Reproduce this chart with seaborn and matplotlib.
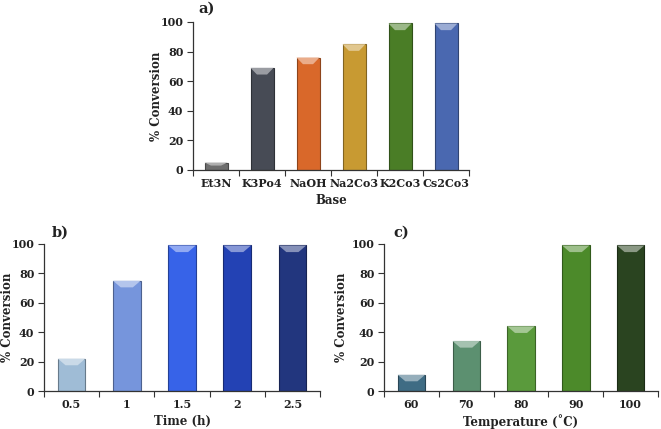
import numpy as np
import pandas as pd
import matplotlib.pyplot as plt
import matplotlib.colors as mcolors
from matplotlib.patches import Polygon
import seaborn as sns

sns.set_theme(style="white")
plt.rcParams['font.family'] = ['DejaVu Serif']
plt.rcParams['font.weight'] = 'bold'

# Data
bases = ["Et3N", "K3Po4", "NaOH", "Na2Co3", "K2Co3", "Cs2Co3"]
base_conv = [5, 69, 76, 85, 99, 99]
base_colors = ["#6e6e6e", "#474b55", "#d9682a", "#c89a32", "#4a7d26", "#4a68b0"]

times = ["0.5", "1", "1.5", "2", "2.5"]
time_conv = [22, 75, 99, 99, 99]
time_colors = ["#9fbcd6", "#7695dc", "#3763e8", "#2342b4", "#22367e"]

temps = ["60", "70", "80", "90", "100"]
temp_conv = [11, 34, 44, 99, 99]
temp_colors = ["#3f6c84", "#5c9070", "#5a9a3c", "#4c8a2a", "#2a4420"]

W, H = 661, 429
fig = plt.figure(figsize=(W / 100, H / 100), dpi=100)


def shade(c, f):
    rgb = np.array(mcolors.to_rgb(c))
    if f < 0:
        return tuple(rgb * (1 + f))
    return tuple(rgb + (1 - rgb) * f)


def panel(rect, cats, vals, colors, xlabel, tag, tag_xy, ylab_x):
    ax = fig.add_axes(rect)
    df = pd.DataFrame({"cat": cats, "val": vals})
    sns.barplot(data=df, x="cat", y="val", hue="cat", palette=colors,
                legend=False, width=0.5, ax=ax, saturation=1, linewidth=0.8)
    # bevel look: darker edge and light wedge at the top of each bar
    for p in ax.patches:
        fc = p.get_facecolor()
        p.set_edgecolor(shade(fc[:3], -0.35))
        x, w, h = p.get_x(), p.get_width(), p.get_height()
        d = min(4.5, h * 0.4)
        ax.add_patch(Polygon([(x, h), (x + w, h), (x + 0.72 * w, h - d),
                              (x + 0.28 * w, h - d)], closed=True,
                             facecolor=shade(fc[:3], 0.45), edgecolor="none",
                             zorder=p.get_zorder() + 0.1))
    n = len(cats)
    ax.set_xlim(-0.5, n - 0.5)
    ax.set_ylim(0, 100)
    ax.set_yticks([0, 20, 40, 60, 80, 100])
    ax.set_xticks(np.arange(-0.5, n, 1.0), minor=True)
    ax.tick_params(axis="x", which="major", length=0, labelsize=8, pad=6)
    ax.tick_params(axis="x", which="minor", length=4, width=0.8, color="#333333",
                   direction="out", bottom=True)
    ax.tick_params(axis="y", length=4, width=0.8, color="#333333", direction="out",
                   left=True, labelsize=8, pad=3)
    for lab in ax.get_xticklabels() + ax.get_yticklabels():
        lab.set_fontweight("bold")
        lab.set_color("#222222")
    sns.despine(ax=ax)
    for s in ["left", "bottom"]:
        ax.spines[s].set_color("#333333")
        ax.spines[s].set_linewidth(0.9)
    ax.set_xlabel(xlabel, fontsize=8.5, fontweight="bold", labelpad=3,
                  color="#222222")
    ax.set_ylabel("% Conversion", fontsize=8.5, fontweight="bold",
                  color="#222222", va="center")
    # y-label centre position in figure pixels
    ax.yaxis.set_label_coords((ylab_x / W - rect[0]) / rect[2], 0.5)
    fig.text(tag_xy[0] / W, 1 - tag_xy[1] / H, tag, fontsize=10.5,
             fontweight="bold", ha="left", va="center", color="#222222")
    return ax


panel([193 / W, 1 - 170 / H, 276 / W, 148 / H], bases, base_conv, base_colors,
      "Base", "a)", (198, 9), 156)
panel([44 / W, 1 - 391 / H, 276 / W, 147 / H], times, time_conv, time_colors,
      "Time (h)", "b)", (52, 233), 7)
panel([384 / W, 1 - 391 / H, 274 / W, 147 / H], temps, temp_conv, temp_colors,
      "Temperature (˚C)", "c)", (393, 233), 342)

fig.savefig("out.png", dpi=100)
